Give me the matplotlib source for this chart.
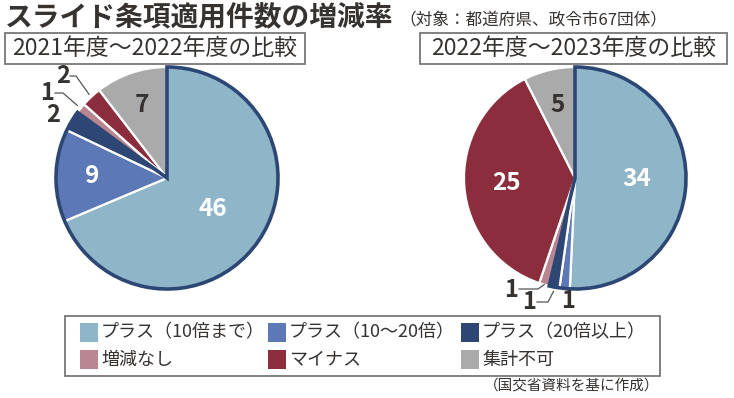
import matplotlib
matplotlib.use('Agg')
import matplotlib.pyplot as plt
from matplotlib.patches import Wedge, Rectangle
import numpy as np

plt.rcParams['font.family'] = ['Noto Sans CJK JP', 'DejaVu Sans']

# ---- data ----
categories = ['プラス（10倍まで）', 'プラス（10～20倍）', 'プラス（20倍以上）',
              '増減なし', 'マイナス', '集計不可']
values_2022 = [46, 9, 2, 1, 2, 7]
values_2023 = [34, 1, 1, 1, 25, 5]
plus_count = 3  # first three categories are "plus"
colors = ['#8fb5c9', '#5d78b6', '#2e4673', '#b98590', '#8b2d3d', '#aaaaaa']
title = 'スライド条項適用件数の増減率'
subtitle = '（対象：都道府県、政令市67団体）'
panel_titles = ['2021年度～2022年度の比較', '2022年度～2023年度の比較']
source = '（国交省資料を基に作成）'

TXT = '#353230'
OUTLINE = '#2c4774'
W, H = 734, 398
fig = plt.figure(figsize=(W / 100, H / 100), dpi=100)
ax = fig.add_axes([0, 0, 1, 1])


def Y(y):
    return H - y


def mid_angle(vals, i):
    tot = sum(vals)
    c = sum(vals[:i]) + vals[i] / 2
    return np.deg2rad(90 - c / tot * 360)


def draw_pie(vals, cx, cy, r, inner_frac, outer):
    ax.pie(vals, colors=colors, startangle=90, counterclock=False,
           center=(cx, Y(cy)), radius=r,
           wedgeprops=dict(edgecolor='white', linewidth=1.6))
    tot = sum(vals)
    span = sum(vals[:plus_count]) / tot * 360
    ax.add_patch(Wedge((cx, Y(cy)), r, 90 - span, 90, fill=False,
                       edgecolor=OUTLINE, linewidth=2.6, zorder=5))
    for i, v in enumerate(vals):
        a = mid_angle(vals, i)
        if i in outer:
            lx, ly, leader = outer[i]
            ax.text(lx, Y(ly), str(v), fontsize=17, fontweight='bold',
                    color=TXT, ha='center', va='center', zorder=6)
            if leader:
                kx0, kx1, ky, rf = leader
                ex = cx + r * rf * np.cos(a)
                ey = Y(cy) + r * rf * np.sin(a)
                ax.plot([kx0, kx1, ex], [Y(ky), Y(ky), ey], color='#555555',
                        lw=0.9, zorder=6)
        else:
            f = inner_frac[i]
            tc = 'white' if colors[i] not in ('#aaaaaa',) else TXT
            ax.text(cx + r * f * np.cos(a), Y(cy) + r * f * np.sin(a), str(v),
                    fontsize=17.5, fontweight='bold', color=tc,
                    ha='center', va='center', zorder=6)


# left pie
draw_pie(values_2022, 167, 178, 111,
         {0: 0.5, 1: 0.67, 4: 0.68, 5: 0.69},
         {2: (53, 115, None),
          3: (47, 93, (55, 63, 93, 1.04)),
          4: (63, 76, (70, 76, 76, 1.03))})
# right pie
draw_pie(values_2023, 575, 178, 111,
         {0: 0.56, 4: 0.62, 5: 0.68},
         {1: (568, 301, None),
          2: (529, 302, (537, 548, 302, 1.04)),
          3: (511, 290, (519, 538, 289, 1.0))})

# titles
ax.text(5, Y(18), title, fontsize=20, fontweight='bold', color=TXT,
        ha='left', va='center')
ax.text(399, Y(21), subtitle, fontsize=12, color=TXT, ha='left', va='center')

for (x0, w), t in zip([(5, 300), (420, 307)], panel_titles):
    ax.add_patch(Rectangle((x0, Y(64)), w, 31, fill=False, edgecolor='#777777',
                           linewidth=1.3))
    ax.text(x0 + w / 2, Y(48.5), t, fontsize=16.5, color=TXT,
            ha='center', va='center')

# legend
ax.add_patch(Rectangle((65, Y(376)), 595, 60, fill=False, edgecolor='#777777',
                       linewidth=1.3))
col_x = [80, 268, 461]
row_y = [323, 350]
for i, (cat, c) in enumerate(zip(categories, colors)):
    x = col_x[i % 3]
    y = row_y[i // 3]
    ax.add_patch(Rectangle((x, Y(y + 19)), 18, 19, facecolor=c, edgecolor='none'))
    ax.text(x + 21, Y(y + 9.5), cat, fontsize=13, color=TXT,
            ha='left', va='center')

ax.text(659, Y(386), source, fontsize=10.5, color=TXT, ha='right', va='center')

ax.set_xlim(0, W)
ax.set_ylim(0, H)
ax.set_aspect('auto')
ax.axis('off')
fig.savefig('out.png', dpi=100)
